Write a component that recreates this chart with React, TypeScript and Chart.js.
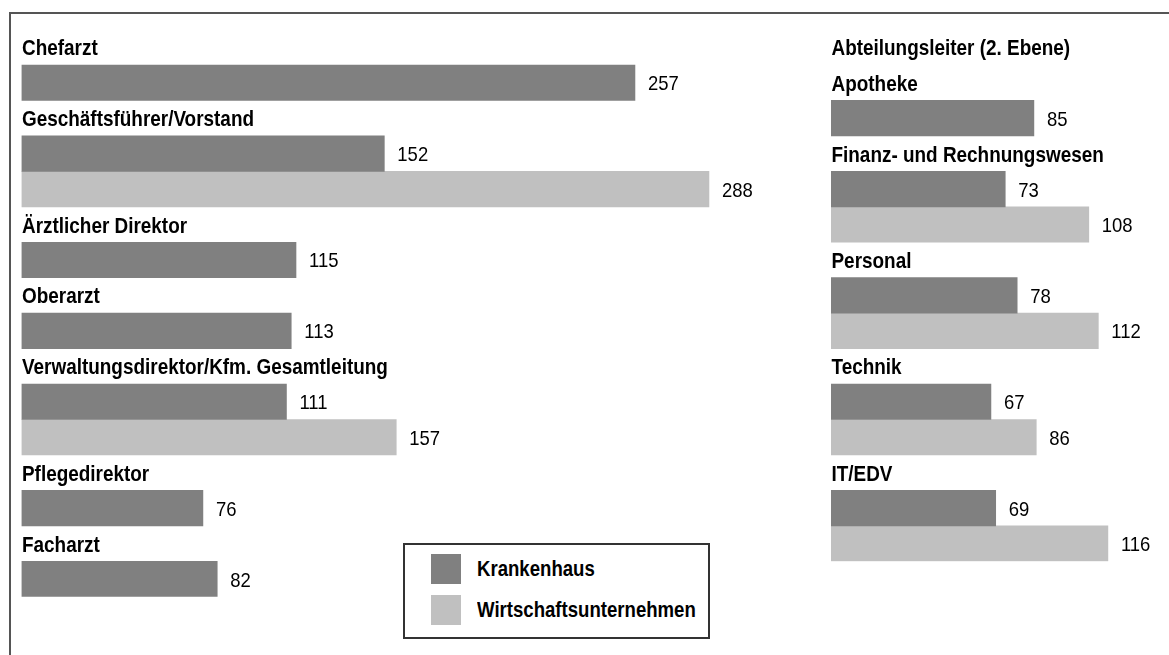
import React, { useEffect, useRef } from "react";
import { Chart, registerables } from "chart.js";

Chart.register(...registerables);

// ---------- data ----------
const seriesNames = ["Krankenhaus", "Wirtschaftsunternehmen"];

const leftCategories = [
  "Chefarzt",
  "Geschäftsführer/Vorstand",
  "Ärztlicher Direktor",
  "Oberarzt",
  "Verwaltungsdirektor/Kfm. Gesamtleitung",
  "Pflegedirektor",
  "Facharzt",
];
const leftKrankenhaus: (number | null)[] = [257, 152, 115, 113, 111, 76, 82];
const leftWirtschaft: (number | null)[] = [null, 288, null, null, 157, null, null];

const rightTitle = "Abteilungsleiter (2. Ebene)";
const rightCategories = [
  "Apotheke",
  "Finanz- und Rechnungswesen",
  "Personal",
  "Technik",
  "IT/EDV",
];
const rightKrankenhaus: (number | null)[] = [85, 73, 78, 67, 69];
const rightWirtschaft: (number | null)[] = [null, 108, 112, 86, 116];

// ---------- style / layout ----------
const DARK = "#808080";
const LIGHT = "#c0c0c0";
const FONT = "'Liberation Sans', Arial, Helvetica, sans-serif";
const ROW_H = 35.45;
const TOP = 29.55;
const PX_PER_UNIT = 2.387;
const H = 655;
const LABEL_FONT = `bold 22px ${FONT}`;
const LABEL_SCALE = 0.86;
const VALUE_FONT = `21px ${FONT}`;
const VALUE_SCALE = 0.88;

type Slots = {
  labels: string[];
  kinds: string[];
  k: (number | null)[];
  w: (number | null)[];
};

function buildSlots(
  title: string | null,
  cats: string[],
  kVals: (number | null)[],
  wVals: (number | null)[]
): Slots {
  const s: Slots = { labels: [], kinds: [], k: [], w: [] };
  if (title) {
    s.labels.push(title);
    s.kinds.push("label");
    s.k.push(null);
    s.w.push(null);
  }
  cats.forEach((c, i) => {
    s.labels.push(c);
    s.kinds.push("label");
    s.k.push(null);
    s.w.push(null);
    if (kVals[i] != null) {
      s.labels.push(c + " – " + seriesNames[0]);
      s.kinds.push("bar");
      s.k.push(kVals[i]);
      s.w.push(null);
    }
    if (wVals[i] != null) {
      s.labels.push(c + " – " + seriesNames[1]);
      s.kinds.push("bar");
      s.k.push(null);
      s.w.push(wVals[i]);
    }
  });
  return s;
}

function drawScaled(
  ctx: CanvasRenderingContext2D,
  text: string,
  x: number,
  y: number,
  font: string,
  sx: number
) {
  ctx.save();
  ctx.translate(x, y);
  ctx.scale(sx, 1);
  ctx.font = font;
  ctx.fillStyle = "#000";
  ctx.textAlign = "left";
  ctx.textBaseline = "alphabetic";
  ctx.fillText(text, 0, 0);
  ctx.restore();
}

function makeChart(
  canvas: HTMLCanvasElement,
  slots: Slots,
  width: number,
  leftPad: number,
  xMax: number
) {
  const plotW = xMax * PX_PER_UNIT;
  const bottom = H - (TOP + slots.labels.length * ROW_H);
  const textPlugin = {
    id: "texts",
    afterDatasetsDraw(chart: any) {
      const ctx = chart.ctx as CanvasRenderingContext2D;
      const ys = chart.scales.y;
      const area = chart.chartArea;
      slots.kinds.forEach((kd, i) => {
        if (kd === "label") {
          drawScaled(ctx, slots.labels[i], area.left + 0.5, ys.getPixelForValue(i) + 8, LABEL_FONT, LABEL_SCALE);
        }
      });
      chart.data.datasets.forEach((ds: any, di: number) => {
        const meta = chart.getDatasetMeta(di);
        meta.data.forEach((el: any, i: number) => {
          const v = ds.data[i];
          if (v == null) return;
          drawScaled(ctx, String(v), el.x + 13, el.y + 7.5, VALUE_FONT, VALUE_SCALE);
        });
      });
    },
  };
  return new Chart(canvas, {
    type: "bar",
    data: {
      labels: slots.labels,
      datasets: [
        {
          label: seriesNames[0],
          data: slots.k,
          backgroundColor: DARK,
          borderWidth: 0,
          grouped: false,
          barPercentage: 1,
          categoryPercentage: 1,
        },
        {
          label: seriesNames[1],
          data: slots.w,
          backgroundColor: LIGHT,
          borderWidth: 0,
          grouped: false,
          barPercentage: 1,
          categoryPercentage: 1,
        },
      ],
    } as any,
    options: {
      indexAxis: "y",
      responsive: false,
      maintainAspectRatio: false,
      animation: false,
      devicePixelRatio: 1,
      layout: {
        padding: { left: leftPad, right: width - leftPad - plotW, top: TOP, bottom },
      },
      scales: {
        x: { display: false, min: 0, max: xMax },
        y: { display: false },
      },
      plugins: { legend: { display: false }, tooltip: { enabled: false } },
    } as any,
    plugins: [textPlugin],
  });
}

export default function App() {
  const leftRef = useRef<HTMLCanvasElement>(null);
  const rightRef = useRef<HTMLCanvasElement>(null);

  useEffect(() => {
    const left = makeChart(
      leftRef.current!,
      buildSlots(null, leftCategories, leftKrankenhaus, leftWirtschaft),
      820,
      21.5,
      300
    );
    const right = makeChart(
      rightRef.current!,
      buildSlots(rightTitle, rightCategories, rightKrankenhaus, rightWirtschaft),
      349,
      11,
      130
    );
    return () => {
      left.destroy();
      right.destroy();
    };
  }, []);

  const legendText: React.CSSProperties = {
    position: "absolute",
    left: 477,
    font: LABEL_FONT,
    lineHeight: "24px",
    transform: `scaleX(0.845)`,
    transformOrigin: "left center",
    whiteSpace: "nowrap",
    color: "#000",
  };

  return (
    <div
      style={{
        position: "fixed",
        left: 0,
        top: 0,
        width: 1169,
        height: 655,
        background: "#fff",
        overflow: "hidden",
      }}
    >
      <div
        style={{
          position: "absolute",
          left: 9,
          top: 12,
          width: 1300,
          height: 800,
          borderTop: "2px solid #555",
          borderLeft: "2px solid #555",
        }}
      />
      <canvas
        ref={leftRef}
        width={820}
        height={655}
        style={{ position: "absolute", left: 0, top: 0, width: 820, height: 655 }}
      />
      <canvas
        ref={rightRef}
        width={349}
        height={655}
        style={{ position: "absolute", left: 820, top: 0, width: 349, height: 655 }}
      />
      <div
        style={{
          position: "absolute",
          left: 403,
          top: 543,
          width: 303,
          height: 92,
          border: "2px solid #333",
          background: "#fff",
        }}
      />
      <div style={{ position: "absolute", left: 431, top: 554, width: 30, height: 30, background: DARK }} />
      <div style={{ position: "absolute", left: 431, top: 595, width: 30, height: 30, background: LIGHT }} />
      <div style={{ ...legendText, top: 557 }}>{seriesNames[0]}</div>
      <div style={{ ...legendText, top: 598 }}>{seriesNames[1]}</div>
    </div>
  );
}
